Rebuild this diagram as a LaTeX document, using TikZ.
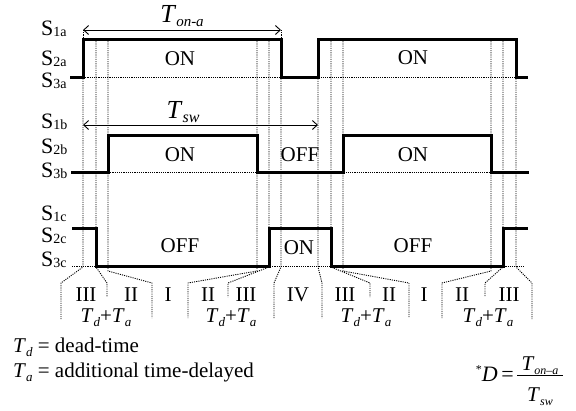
\documentclass[tikz,border=0pt]{standalone}
\usepackage{fontspec}
\setmainfont{Liberation Serif}
\usetikzlibrary{arrows.meta}
\newcommand{\Slab}[1]{S\raisebox{-1.5pt}{\fontsize{14}{14}\selectfont #1}}
\newcommand{\Tsb}[2]{\textit{T}\raisebox{-4pt}{\fontsize{#2}{#2}\selectfont\textit{#1}}}
\begin{document}
\begin{tikzpicture}[x=1pt,y=-1pt,
  wave/.style={line width=3pt, line join=miter},
  dots/.style={line width=0.9pt, dash pattern=on 1.1pt off 1.1pt},
  lbl/.style={font=\fontsize{21}{24}\selectfont, inner sep=0pt},
  slab/.style={font=\fontsize{22}{24}\selectfont, anchor=base west, inner sep=0pt},
  dimarrow/.style={line width=0.9pt, {Straight Barb[length=5pt,width=9pt]}-{Straight Barb[length=5pt,width=9pt]}}]
\useasboundingbox (0,0) rectangle (576,410);
% dotted guide lines
\foreach \x/\yb/\xs/\ye in {83/267/61/319, 96/267/107/297, 108/271/152/318, 257/271/188/318,
  269/267/228/297, 281/267/274/318, 318/267/322/318, 331/267/370/297, 343/271/409/318,
  491/271/442/318, 503/267/485/297, 516/267/532/319}
  \draw[dots] (\x,39) -- (\x,\yb) -- (\xs,283) -- (\xs,\ye);
\draw[dots] (83,30) -- (83,39);
\draw[dots] (281,30) -- (281,39);
\draw[dots] (83,77) -- (516,77);
\draw[dots] (108,172) -- (491,172);
\draw[dots] (72,266) -- (525,266);
% waveforms
\draw[wave] (70,77) -- (83,77) -- (83,39) -- (281,39) -- (281,77) -- (318,77) -- (318,39) -- (516,39) -- (516,77) -- (528,77);
\draw[wave] (71,172) -- (108,172) -- (108,135) -- (257,135) -- (257,172) -- (343,172) -- (343,135) -- (491,135) -- (491,172) -- (529,172);
\draw[wave] (72,228) -- (96,228) -- (96,266) -- (269,266) -- (269,228) -- (331,228) -- (331,266) -- (503,266) -- (503,228) -- (528,228);
% dimension arrows
\coordinate (ona1) at (83,30);
\coordinate (ona2) at (281,30);
\coordinate (sw1) at (83,125);
\coordinate (sw2) at (318,125);
\draw[dimarrow] (ona1) -- (ona2);
\draw[dimarrow] (sw1) -- (sw2);
\node[anchor=base, inner sep=0pt, font=\fontsize{26}{28}\selectfont] (tona) at (182,22) {\Tsb{on-a}{15}};
\node[anchor=base, inner sep=0pt, font=\fontsize{26}{28}\selectfont] (tsw) at (183,118) {\Tsb{sw}{16}};
% S labels
\node[slab] (s1a) at (41,35) {\Slab{1a}};
\node[slab] (s2a) at (41,65) {\Slab{2a}};
\node[slab] (s3a) at (41,87) {\Slab{3a}};
\node[slab] (s1b) at (41,128) {\Slab{1b}};
\node[slab] (s2b) at (41,153) {\Slab{2b}};
\node[slab] (s3b) at (41,177) {\Slab{3b}};
\node[slab] (s1c) at (41,220) {\Slab{1c}};
\node[slab] (s2c) at (41,242) {\Slab{2c}};
\node[slab] (s3c) at (41,266) {\Slab{3c}};
% state labels
\node[lbl] (on1) at (180,59) {ON};
\node[lbl] (on2) at (413,58) {ON};
\node[lbl] (on3) at (180,155) {ON};
\node[lbl] (off1) at (300,155) {OFF};
\node[lbl] (on4) at (413,155) {ON};
\node[lbl] (off2) at (180,246) {OFF};
\node[lbl] (on5) at (299,248) {ON};
\node[lbl] (off3) at (413,246) {OFF};
% interval numerals
\foreach \x/\t [count=\i] in {86/III, 131/II, 168/I, 208/II, 246/III, 298/IV, 345/III, 389/II, 424/I, 462/II, 509/III}
  \node[lbl] (r\i) at (\x,295) {\t};
\foreach \x [count=\i] in {106, 231, 366, 488}
  \node[lbl, anchor=base] (tdta\i) at (\x,322) {\Tsb{d}{13}+\Tsb{a}{13}};
% legend
\node[lbl, anchor=base west] (legd) at (13,352) {\Tsb{d}{13} = dead-time};
\node[lbl, anchor=base west] (lega) at (13,377) {\Tsb{a}{13} = additional time-delayed};
% duty formula
\node[lbl, anchor=base east, font=\fontsize{22}{24}\selectfont] (dlab) at (514,381) {\raisebox{8pt}{\fontsize{12}{12}\selectfont *}\textit{D}\,=};
\node[lbl, anchor=base] (num) at (540,370) {\Tsb{on–a}{12}};
\node[lbl, anchor=base] (den) at (540,401) {\Tsb{sw}{12}};
\draw[line width=0.8pt] (517,375) -- (563,375);
\end{tikzpicture}
\end{document}
